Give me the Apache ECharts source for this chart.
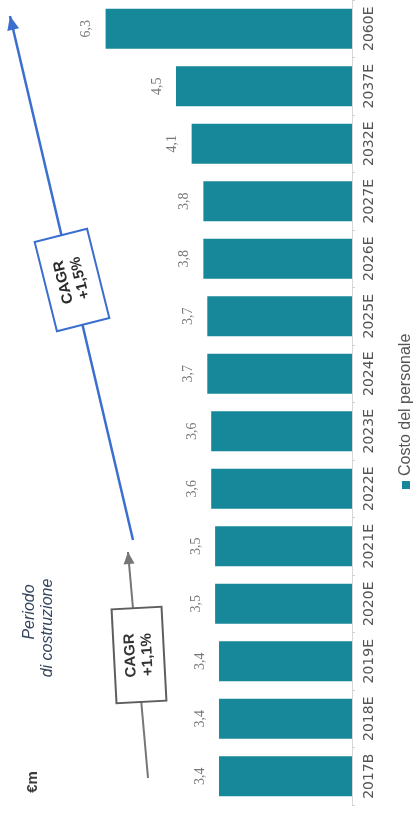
<!DOCTYPE html>
<html>
<head>
<meta charset="utf-8">
<script src="https://cdn.jsdelivr.net/npm/echarts/dist/echarts.min.js"></script>
<style>
html,body{margin:0;padding:0;background:#fff;}
#chart{width:417px;height:818px;}
</style>
</head>
<body>
<div id="chart"></div>
<script>
// Data (chart is drawn rotated 90° CCW)
const categories = ['2017B','2018E','2019E','2020E','2021E','2022E','2023E','2024E','2025E','2026E','2027E','2032E','2037E','2060E'];
const values = [3.4, 3.4, 3.4, 3.5, 3.5, 3.6, 3.6, 3.7, 3.7, 3.8, 3.8, 4.1, 4.5, 6.3];
const seriesName = 'Costo del personale';
const unitLabel = '€m';
const periodLabel = ['Periodo', 'di costruzione'];
const cagrLabels = ['CAGR\n+1,1%', 'CAGR\n+1,5%'];

const barColor = '#17879a';
const blue = '#3b6fcf';
const grey = '#767676';

function arrowHead(tip, from, len, half) {
  const dx = tip[0] - from[0], dy = tip[1] - from[1];
  const d = Math.sqrt(dx*dx + dy*dy);
  const ux = dx/d, uy = dy/d;
  const bx = tip[0] - ux*len, by = tip[1] - uy*len;
  const px = -uy, py = ux;
  return [tip, [bx + px*half, by + py*half], [bx - px*half, by - py*half]];
}

const blueFrom = [133, 540], blueTip = [10, 16];
const greyFrom = [148, 778], greyTip = [128, 552];
const deg = Math.PI / 180;

const chart = echarts.init(document.getElementById('chart'), null, {renderer: 'canvas'});
chart.setOption({
  backgroundColor: '#ffffff',
  animation: false,
  grid: {left: 0, right: 65, top: -7, bottom: 13, containLabel: false},
  xAxis: {type: 'value', inverse: true, min: 0, max: 9, show: false},
  yAxis: {
    type: 'category',
    data: categories,
    position: 'right',
    axisLine: {show: true, lineStyle: {color: '#d8d8d8', width: 1}},
    axisTick: {show: true, length: 3, lineStyle: {color: '#cfcfcf'}},
    axisLabel: {
      interval: 0, hideOverlap: false,
      rotate: 90, align: 'center', verticalAlign: 'top', margin: 10,
      fontFamily: 'DejaVu Sans', fontSize: 14, color: '#555'
    }
  },
  series: [{
    name: seriesName,
    type: 'bar',
    data: values,
    barWidth: 40,
    itemStyle: {color: barColor},
    label: {
      show: true, position: 'left', distance: 12, rotate: 90,
      align: 'center', verticalAlign: 'bottom',
      fontFamily: 'Liberation Serif', fontSize: 14, color: '#777',
      formatter: p => p.value.toFixed(1).replace('.', ',')
    }
  }],
  graphic: [
    // grey arrow (construction period)
    {type: 'line', shape: {x1: greyFrom[0], y1: greyFrom[1], x2: greyTip[0], y2: greyTip[1]}, style: {stroke: grey, lineWidth: 2}},
    {type: 'polygon', shape: {points: arrowHead(greyTip, greyFrom, 12, 5.5)}, style: {fill: grey}},
    // blue arrow
    {type: 'line', shape: {x1: blueFrom[0], y1: blueFrom[1], x2: blueTip[0], y2: blueTip[1]}, style: {stroke: blue, lineWidth: 2.5}},
    {type: 'polygon', shape: {points: arrowHead(blueTip, blueFrom, 14, 6)}, style: {fill: blue}},
    // CAGR boxes
    {type: 'group', x: 139, y: 655, rotation: 93*deg, children: [
      {type: 'rect', shape: {x: -47, y: -25, width: 94, height: 50}, style: {fill: '#fff', stroke: '#5e5e5e', lineWidth: 2}},
      {type: 'text', x: 0, y: 0, style: {text: cagrLabels[0], align: 'center', verticalAlign: 'middle', fontFamily: 'Liberation Sans', fontWeight: 'bold', fontSize: 15, lineHeight: 17, fill: '#333'}}
    ]},
    {type: 'group', x: 72, y: 280, rotation: 104*deg, children: [
      {type: 'rect', shape: {x: -46, y: -27, width: 92, height: 54}, style: {fill: '#fff', stroke: blue, lineWidth: 2}},
      {type: 'text', x: 0, y: 0, style: {text: cagrLabels[1], align: 'center', verticalAlign: 'middle', fontFamily: 'Liberation Sans', fontWeight: 'bold', fontSize: 15, lineHeight: 17, fill: '#2a2a2a'}}
    ]},
    // unit and period labels
    {type: 'text', x: 33, y: 782, rotation: 90*deg, style: {text: unitLabel, align: 'center', verticalAlign: 'middle', fontFamily: 'Liberation Sans', fontWeight: 'bold', fontSize: 15, fill: '#3a3a3a'}},
    {type: 'text', x: 30, y: 612, rotation: 90*deg, style: {text: periodLabel[0], align: 'center', verticalAlign: 'middle', fontFamily: 'Liberation Sans', fontStyle: 'italic', fontSize: 16, fill: '#34465c'}},
    {type: 'text', x: 48, y: 628, rotation: 90*deg, style: {text: periodLabel[1], align: 'center', verticalAlign: 'middle', fontFamily: 'Liberation Sans', fontStyle: 'italic', fontSize: 16, fill: '#34465c'}},
    // legend
    {type: 'rect', shape: {x: 402, y: 481, width: 8, height: 8}, style: {fill: barColor}},
    {type: 'text', x: 406, y: 476, rotation: 90*deg, style: {text: seriesName, align: 'left', verticalAlign: 'middle', fontFamily: 'Liberation Sans', fontSize: 16, fill: '#555'}}
  ]
});
</script>
</body>
</html>
